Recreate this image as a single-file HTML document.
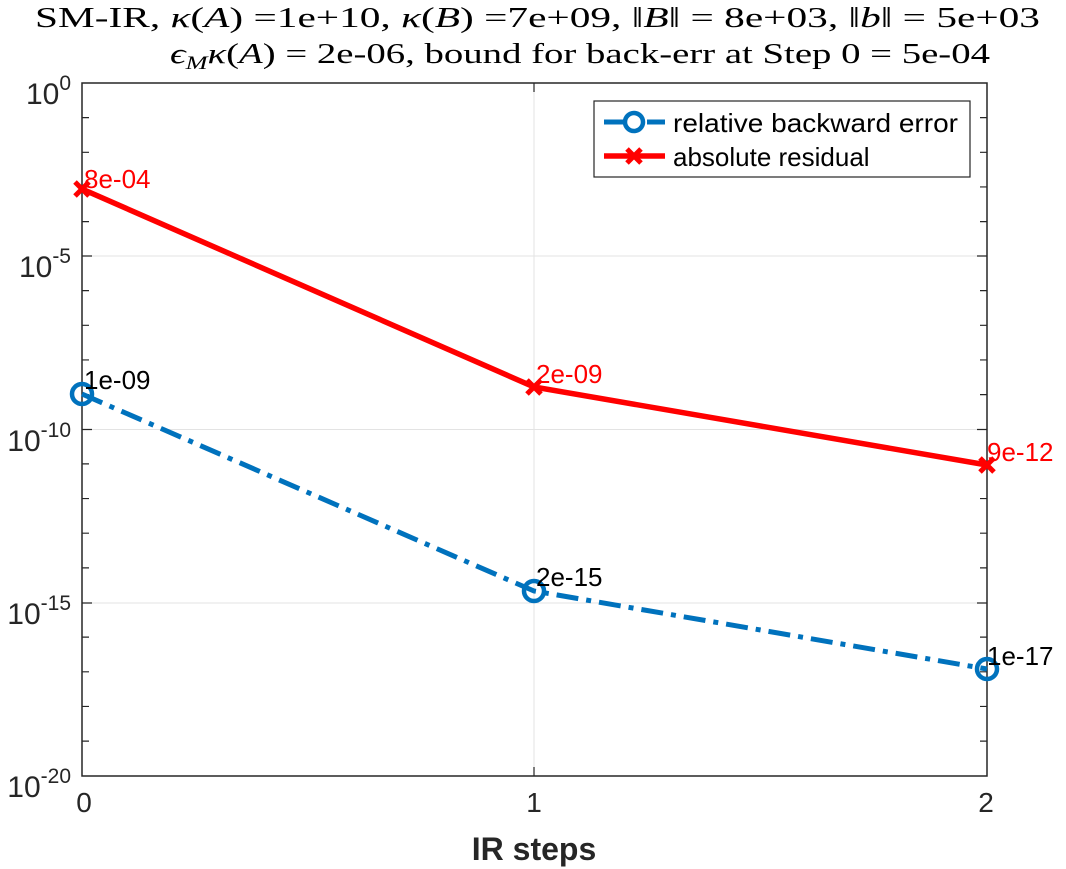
<!DOCTYPE html>
<html><head><meta charset="utf-8"><style>body{margin:0;background:#fff}svg{display:block}</style></head><body>
<svg width="1066" height="869" xmlns="http://www.w3.org/2000/svg" font-family="Liberation Sans, sans-serif">
<rect width="1066" height="869" fill="#fff"/>
<g font-family="Liberation Serif, serif" font-size="28" fill="#000">
<text x="35" y="27" textLength="1005" lengthAdjust="spacingAndGlyphs">SM-IR, <tspan font-style="italic">κ</tspan>(<tspan font-style="italic">A</tspan>) =1e+10, <tspan font-style="italic">κ</tspan>(<tspan font-style="italic">B</tspan>) =7e+09, ‖<tspan font-style="italic">B</tspan>‖ = 8e+03, ‖<tspan font-style="italic">b</tspan>‖ = 5e+03</text>
<text x="170" y="63" textLength="820" lengthAdjust="spacingAndGlyphs"><tspan font-style="italic">ϵ</tspan><tspan font-size="19" font-style="italic" dy="6">M</tspan><tspan dy="-6" font-style="italic">κ</tspan>(<tspan font-style="italic">A</tspan>) = 2e-06, bound for back-err at Step 0 = 5e-04</text>
</g>
<g stroke="#e3e3e3" stroke-width="1">
<line x1="82" y1="256" x2="987" y2="256"/><line x1="82" y1="429.5" x2="987" y2="429.5"/><line x1="82" y1="603" x2="987" y2="603"/>
<line x1="534" y1="83" x2="534" y2="776"/>
</g>
<rect x="82" y="83" width="905" height="693" fill="none" stroke="#262626" stroke-width="1.5"/>
<g stroke="#262626" stroke-width="1.2">
<path d="M82 117.65h7M82 152.3h7M82 186.95h7M82 221.6h7M82 256h10M82 290.65h7M82 325.3h7M82 359.95h7M82 394.6h7M82 429.5h10M82 463.9h7M82 498.55h7M82 533.2h7M82 567.85h7M82 603h10M82 637.15h7M82 671.8h7M82 706.45h7M82 741.1h7
M987 117.65h-7M987 152.3h-7M987 186.95h-7M987 221.6h-7M987 256h-10M987 290.65h-7M987 325.3h-7M987 359.95h-7M987 394.6h-7M987 429.5h-10M987 463.9h-7M987 498.55h-7M987 533.2h-7M987 567.85h-7M987 603h-10M987 637.15h-7M987 671.8h-7M987 706.45h-7M987 741.1h-7
M534 776v-9M534 83v9"/>
</g>
<g font-size="30" fill="#262626" text-anchor="end">
<text x="71" y="104">10<tspan font-size="21" dy="-14">0</tspan></text>
<text x="71" y="277">10<tspan font-size="21" dy="-14">-5</tspan></text>
<text x="71" y="451">10<tspan font-size="21" dy="-14">-10</tspan></text>
<text x="71" y="624">10<tspan font-size="21" dy="-14">-15</tspan></text>
<text x="71" y="797">10<tspan font-size="21" dy="-14">-20</tspan></text>
</g>
<g font-size="28" fill="#262626" text-anchor="middle">
<text x="84" y="812">0</text><text x="534" y="812">1</text><text x="986" y="812">2</text>
<text x="534" y="860" font-weight="bold" font-size="32">IR steps</text>
</g>
<polyline points="82,394 534,591 987,669" fill="none" stroke="#0072BD" stroke-width="5" stroke-dasharray="22,8,5,8"/>
<g fill="none" stroke="#0072BD" stroke-width="4.5">
<circle cx="82" cy="394" r="10"/><circle cx="534" cy="591" r="10"/><circle cx="987" cy="669" r="10"/>
</g>
<polyline points="82,189 534,387 987,465" fill="none" stroke="#ff0000" stroke-width="5.5"/>
<g stroke="#ff0000" stroke-width="5">
<path d="M75 182l14 14M89 182l-14 14M527 380l14 14M541 380l-14 14M980 458l14 14M994 458l-14 14"/>
</g>
<g font-size="26">
<text x="84" y="188" fill="#ff0000">8e-04</text>
<text x="536" y="383" fill="#ff0000">2e-09</text>
<text x="987" y="461" fill="#ff0000">9e-12</text>
<text x="84" y="389" fill="#000">1e-09</text>
<text x="536" y="586" fill="#000">2e-15</text>
<text x="987" y="665" fill="#000">1e-17</text>
</g>
<rect x="594" y="101" width="376" height="76" fill="#fff" stroke="#262626" stroke-width="1.2"/>
<line x1="604" y1="122" x2="665" y2="122" stroke="#0072BD" stroke-width="5" stroke-dasharray="22,8,5,8"/>
<circle cx="634" cy="122" r="9" fill="#fff" stroke="#0072BD" stroke-width="4.5"/>
<line x1="604" y1="156" x2="665" y2="156" stroke="#ff0000" stroke-width="5.5"/>
<path d="M627 149l14 14M641 149l-14 14" stroke="#ff0000" stroke-width="5"/>
<g font-size="26" fill="#000">
<text x="673" y="132" textLength="285" lengthAdjust="spacingAndGlyphs">relative backward error</text>
<text x="673" y="166">absolute residual</text>
</g>
</svg>
</body></html>
